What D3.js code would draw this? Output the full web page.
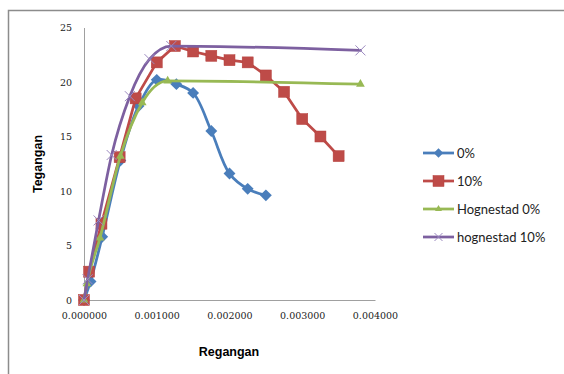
<!DOCTYPE html>
<html>
<head>
<meta charset="utf-8">
<script src="https://cdn.jsdelivr.net/npm/d3@7"></script>
<style>
  body { margin: 0; background: #fff; }
  svg { display: block; }
</style>
</head>
<body>
<script>
// data
var strain0 = [0, 0.00009, 0.00025, 0.0005, 0.00075, 0.001, 0.00127, 0.0015, 0.00175, 0.002, 0.00225, 0.0025];
var stress0 = [0, 1.7, 5.8, 12.8, 17.8, 20.2, 19.8, 19.0, 15.5, 11.6, 10.2, 9.6];

var strain10 = [0, 0.00007, 0.00024, 0.00049, 0.00071, 0.001, 0.00125, 0.0015, 0.00175, 0.002, 0.00225, 0.0025, 0.00275, 0.003, 0.00325, 0.0035];
var stress10 = [0, 2.6, 7.0, 13.1, 18.5, 21.8, 23.3, 22.8, 22.4, 22.0, 21.8, 20.6, 19.1, 16.6, 15.0, 13.2];

var strainH0 = [0, 0.00004, 0.00022, 0.0005, 0.0008, 0.00115, 0.0038];
var stressH0 = [0, 1.5, 5.7, 13.2, 18.1, 20.1, 19.8];

var strainH10 = [0, 0.00005, 0.0002, 0.00038, 0.00063, 0.0009, 0.0012, 0.0038];
var stressH10 = [0, 1.9, 7.3, 13.3, 18.7, 22.1, 23.3, 22.9];

var xTicks = [0, 0.001, 0.002, 0.003, 0.004];
var yTicks = [0, 5, 10, 15, 20, 25];
var seriesNames = ['0%', '10%', 'Hognestad 0%', 'hognestad 10%'];

var width = 564, height = 374;
var svg = d3.select('body').append('svg').attr('width', width).attr('height', height);

// outer chart border (only top and left are inside the picture)
svg.append('path')
  .attr('d', 'M8.5,' + height + ' V10.5 H' + width)
  .attr('fill', 'none').attr('stroke', '#8c8c8c').attr('stroke-width', 1.5);

var x = d3.scaleLinear().domain([0, 0.004]).range([84, 375]);
var y = d3.scaleLinear().domain([0, 25]).range([300, 27.5]);

// axes
var xAxis = svg.append('g').attr('transform', 'translate(0,300)')
  .call(d3.axisBottom(x).tickValues(xTicks).tickSize(0).tickPadding(12).tickFormat(d3.format('.6f')));
var yAxis = svg.append('g').attr('transform', 'translate(84,0)')
  .call(d3.axisLeft(y).tickValues(yTicks).tickSize(0).tickPadding(12));
[xAxis, yAxis].forEach(function (g) {
  g.select('.domain').attr('stroke', '#a0a0a0').attr('stroke-width', 1);
  g.selectAll('text').attr('font-family', 'DejaVu Serif').attr('font-size', 9.5).attr('fill', '#222');
});

svg.append('text').attr('x', 229).attr('y', 356).attr('text-anchor', 'middle')
  .attr('font-family', 'Liberation Sans').attr('font-weight', 'bold').attr('font-size', 12.5)
  .text('Regangan');
svg.append('text').attr('transform', 'translate(42,164) rotate(-90)').attr('text-anchor', 'middle')
  .attr('font-family', 'Liberation Sans').attr('font-weight', 'bold').attr('font-size', 12.5)
  .text('Tegangan');

var series = [
  { xs: strain0, ys: stress0, color: '#4A7EBB', marker: 'diamond', curve: d3.curveCatmullRom },
  { xs: strain10, ys: stress10, color: '#BE4B48', marker: 'square', curve: d3.curveLinear },
  { xs: strainH0, ys: stressH0, color: '#98B954', marker: 'triangle', curve: d3.curveMonotoneX },
  { xs: strainH10, ys: stressH10, color: '#7D60A0', marker: 'cross', curve: d3.curveMonotoneX }
];

function drawMarker(g, type, cx, cy, color, s) {
  if (type === 'diamond') {
    g.append('path').attr('d', d3.symbol(d3.symbolDiamond2, s * s * 0.9)())
      .attr('transform', 'translate(' + cx + ',' + cy + ')').attr('fill', color);
  } else if (type === 'square') {
    g.append('rect').attr('x', cx - s / 2).attr('y', cy - s / 2).attr('width', s).attr('height', s)
      .attr('fill', color).attr('stroke', '#b5403d').attr('stroke-width', 0.5);
  } else if (type === 'triangle') {
    g.append('path').attr('d', d3.symbol(d3.symbolTriangle2, s * s * 0.55)())
      .attr('transform', 'translate(' + cx + ',' + cy + ')').attr('fill', color);
  } else {
    var h = s / 2;
    g.append('path').attr('d', 'M' + (cx - h) + ',' + (cy - h) + 'L' + (cx + h) + ',' + (cy + h) +
      'M' + (cx - h) + ',' + (cy + h) + 'L' + (cx + h) + ',' + (cy - h))
      .attr('stroke', '#9c8ac0').attr('stroke-width', 1).attr('fill', 'none');
  }
}

series.forEach(function (s) {
  var pts = s.xs.map(function (d, i) { return [d, s.ys[i]]; });
  var line = d3.line().x(function (d) { return x(d[0]); }).y(function (d) { return y(d[1]); }).curve(s.curve);
  var g = svg.append('g');
  g.append('path').attr('d', line(pts)).attr('fill', 'none').attr('stroke', s.color)
    .attr('stroke-width', 2.75).attr('stroke-linejoin', 'round').attr('stroke-linecap', 'round');
  pts.forEach(function (p) {
    drawMarker(g, s.marker, x(p[0]), y(p[1]), s.color, s.marker === 'square' ? 11 : 10);
  });
});

// legend
var legend = svg.append('g');
series.forEach(function (s, i) {
  var ly = 153 + i * 28;
  legend.append('line').attr('x1', 423).attr('x2', 454).attr('y1', ly).attr('y2', ly)
    .attr('stroke', s.color).attr('stroke-width', 2.75);
  drawMarker(legend, s.marker, 438.5, ly, s.color, s.marker === 'square' ? 11 : 8);
  legend.append('text').attr('x', 457).attr('y', ly + 4.5)
    .attr('font-family', 'Lato').attr('font-size', 13).attr('fill', '#222')
    .text(seriesNames[i]);
});
</script>
</body>
</html>
